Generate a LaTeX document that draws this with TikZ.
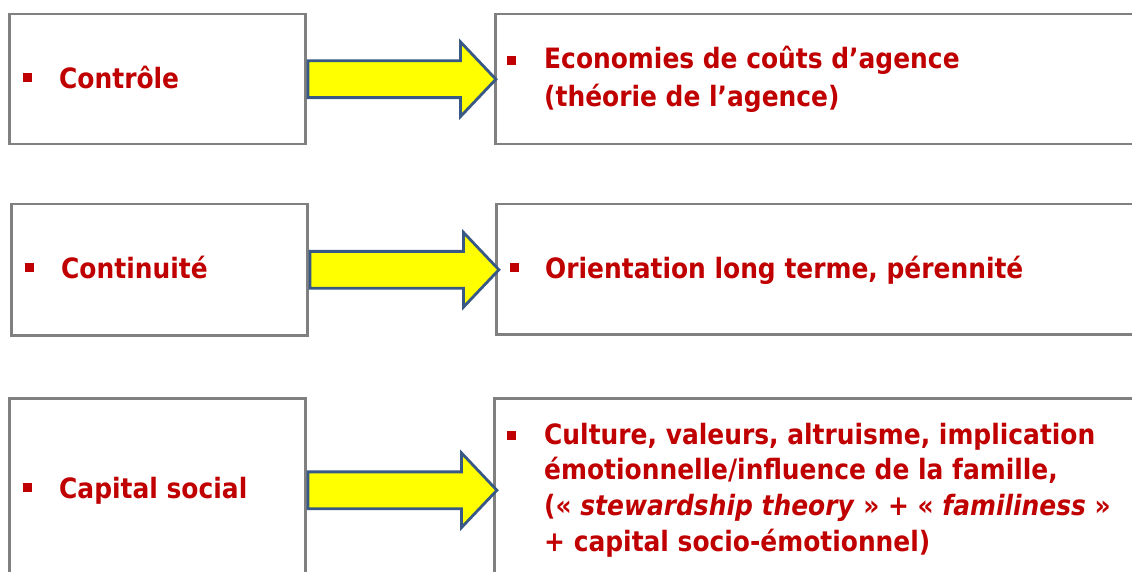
\documentclass[tikz,border=0pt]{standalone}
\usepackage{fontspec}
\setmainfont{DejaVu Sans}[FakeStretch=0.89]
\usetikzlibrary{shapes.arrows}
\definecolor{txtred}{RGB}{192,0,0}
\definecolor{boxgray}{RGB}{128,128,128}
\definecolor{arrblue}{RGB}{56,88,134}
\definecolor{arryellow}{RGB}{255,255,0}
\begin{document}
\begin{tikzpicture}[x=1pt,y=-1pt,
  box/.style={draw=boxgray, line width=2.5pt, anchor=north west, inner sep=0pt},
  fat/.style={single arrow, draw=arrblue, fill=arryellow, line width=2.8pt, inner sep=0pt,
    single arrow head extend=19pt, single arrow tip angle=93, anchor=tail},
  bul/.style={fill=txtred, inner sep=0pt, minimum size=9pt},
  big/.style={anchor=base west, inner sep=0pt, text=txtred, font=\fontsize{28}{34}\selectfont\bfseries},
  small/.style={anchor=base west, inner sep=0pt, text=txtred, font=\fontsize{28}{34}\selectfont\bfseries}
]
\useasboundingbox (0,0) rectangle (1132,572);
% boxes
\node[box, minimum width=296pt, minimum height=130pt] (L1) at (8,13) {};
\node[box, minimum width=660pt, minimum height=130pt] (R1) at (494,13) {};
\node[box, minimum width=296pt, minimum height=131pt] (L2) at (10,203) {};
\node[box, minimum width=660pt, minimum height=130pt] (R2) at (495,203) {};
\node[box, minimum width=296pt, minimum height=184pt] (L3) at (8,397) {};
\node[box, minimum width=660pt, minimum height=184pt] (R3) at (493,397) {};
% arrows
\node[fat, minimum height=188pt] (A1) at (L1.east) {\rule{0pt}{34pt}};
\node[fat, minimum height=189pt] (A2) at (L2.east) {\rule{0pt}{34pt}};
\node[fat, minimum height=189pt] (A3) at (L3.east) {\rule{0pt}{34pt}};
% bullets
\node[bul] (b1) at (27.7,78) {};
\node[bul] (b2) at (29,267) {};
\node[bul] (b3) at (27.5,487.5) {};
\node[bul] (c1) at (511.5,61) {};
\node[bul] (c2) at (514,267) {};
\node[bul] (c3) at (511.5,435) {};
% texts
\node[big] (t1) at (59,89) {Contrôle};
\node[big] (t2) at (61,278) {Continuité};
\node[big] (t3) at (59,498) {Capital social};
\node[small] (u1a) at (544,69) {Economies de coûts d’agence};
\node[small] (u1b) at (544,107) {(théorie de l’agence)};
\node[big] (u2) at (545,278) {Orientation long terme, pérennité};
\node[small] (u3a) at (544,444) {Culture, valeurs, altruisme, implication};
\node[small] (u3b) at (544,479) {émotionnelle/influence de la famille,};
\node[small] (u3c) at (544,515) {(« \textit{stewardship theory} » + « \textit{familiness} »};
\node[small] (u3d) at (544,551) {+ capital socio-émotionnel)};
\end{tikzpicture}
\end{document}
